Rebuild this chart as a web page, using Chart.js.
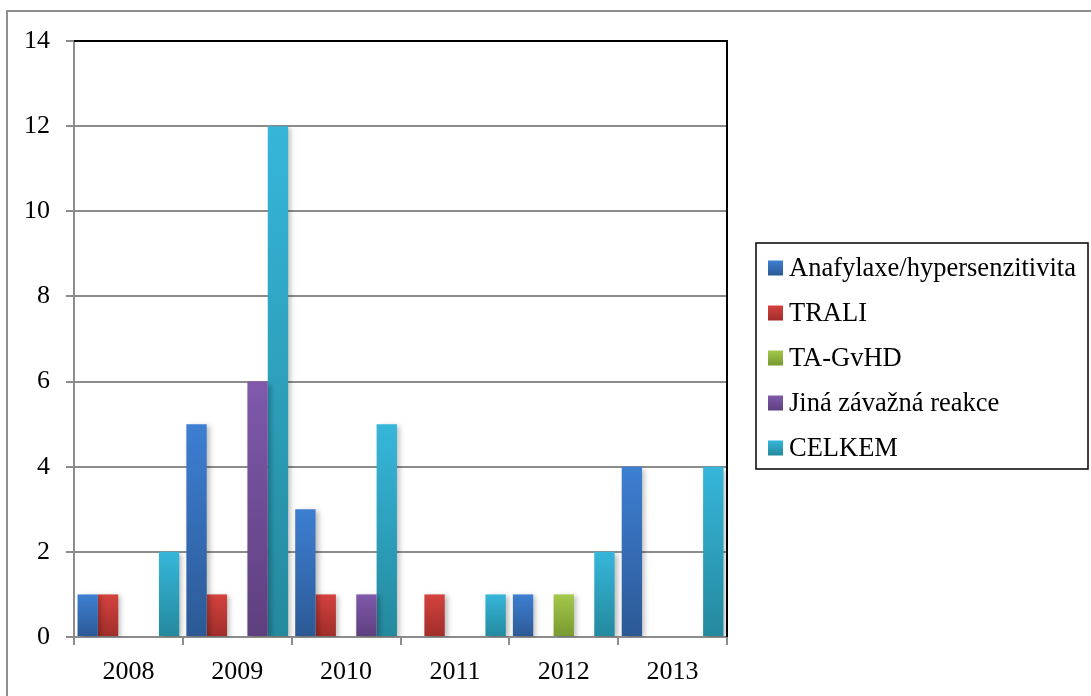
<!DOCTYPE html>
<html>
<head>
<meta charset="utf-8">
<script src="https://cdn.jsdelivr.net/npm/chart.js@4/dist/chart.umd.min.js"></script>
<style>
  html, body { margin: 0; padding: 0; background: #fff; }
  #wrap { width: 1091px; height: 696px; position: relative; }
</style>
</head>
<body>
<div id="wrap"><canvas id="chart-reakce"></canvas></div>
<script>
// Závažné nežádoucí reakce po transfuzi, 2008-2013
const years = ["2008", "2009", "2010", "2011", "2012", "2013"];
const seriesNames = [
  "Anafylaxe/hypersenzitivita",
  "TRALI",
  "TA-GvHD",
  "Jiná závažná reakce",
  "CELKEM",
];
const anafylaxe = [1, 5, 3, 0, 1, 4];
const trali = [1, 1, 1, 1, 0, 0];
const taGvhd = [0, 0, 0, 0, 1, 0];
const jina = [0, 6, 1, 0, 0, 0];
const celkem = [2, 12, 5, 1, 2, 4];
const yTicks = [0, 2, 4, 6, 8, 10, 12, 14];

// top / bottom colour of each bar gradient
const palette = [
  ["#3d7fd2", "#2c5995"],
  ["#d4423e", "#9f2d2a"],
  ["#a3c84b", "#78992f"],
  ["#8059ab", "#5d3f7e"],
  ["#36b6da", "#24899d"],
];

const FONT = "'Liberation Serif', 'Times New Roman', serif";
const GRID = "#8c8c8c";

function barFill(top, bottom) {
  return function (c) {
    const chart = c.chart;
    if (!chart.chartArea || c.type !== "data") return top;
    const y = chart.scales.y;
    const y0 = y.getPixelForValue(0);
    const y1 = y.getPixelForValue(c.raw);
    if (y0 - y1 < 1) return top;
    const g = chart.ctx.createLinearGradient(0, y1, 0, y0);
    g.addColorStop(0, top);
    g.addColorStop(1, bottom);
    return g;
  };
}

const allValues = [anafylaxe, trali, taGvhd, jina, celkem];

// soft drop shadow under the bars
const barShadow = {
  id: "barShadow",
  beforeDatasetsDraw(chart) {
    const ctx = chart.ctx;
    ctx.save();
    ctx.shadowColor = "rgba(0,0,0,0.25)";
    ctx.shadowBlur = 5;
    ctx.shadowOffsetX = 3;
    ctx.shadowOffsetY = 2;
  },
  afterDatasetsDraw(chart) {
    chart.ctx.restore();
  },
};

// outer frame, black plot border on top/right and the boxed legend
const frameAndLegend = {
  id: "frameAndLegend",
  beforeDraw(chart) {
    const ctx = chart.ctx;
    ctx.save();
    ctx.strokeStyle = "#8e8e8e";
    ctx.lineWidth = 2;
    ctx.beginPath();
    ctx.moveTo(7, chart.height);
    ctx.lineTo(7, 11);
    ctx.lineTo(chart.width, 11);
    ctx.stroke();
    ctx.restore();
  },
  afterDraw(chart) {
    const ctx = chart.ctx;
    const a = chart.chartArea;
    ctx.save();
    ctx.strokeStyle = "#000";
    ctx.lineWidth = 2;
    ctx.beginPath();
    ctx.moveTo(a.left, a.top);
    ctx.lineTo(a.right, a.top);
    ctx.lineTo(a.right, a.bottom);
    ctx.stroke();

    // legend
    const lx = 756, ly = 243, lw = 332, lh = 226;
    ctx.lineWidth = 1.5;
    ctx.strokeRect(lx, ly, lw, lh);
    ctx.font = "26.5px " + FONT;
    ctx.textBaseline = "middle";
    ctx.fillStyle = "#000";
    chart.data.datasets.forEach((ds, i) => {
      const cy = 268 + i * 45;
      const g = ctx.createLinearGradient(0, cy - 7.5, 0, cy + 7.5);
      g.addColorStop(0, palette[i][0]);
      g.addColorStop(1, palette[i][1]);
      ctx.fillStyle = g;
      ctx.fillRect(768, cy - 7.5, 15, 15);
      ctx.fillStyle = "#000";
      ctx.fillText(ds.label, 789, cy + 1);
    });
    ctx.restore();
  },
};

const ctx = document.getElementById("chart-reakce").getContext("2d");
new Chart(ctx, {
  type: "bar",
  data: {
    labels: years,
    datasets: seriesNames.map((name, i) => ({
      label: name,
      data: allValues[i],
      backgroundColor: barFill(palette[i][0], palette[i][1]),
      borderWidth: 0,
      barPercentage: 1,
      categoryPercentage: 0.935,
    })),
  },
  options: {
    responsive: true,
    maintainAspectRatio: false,
    animation: false,
    layout: {
      padding: { top: 41, right: 364, bottom: 0, left: 0 },
    },
    plugins: {
      legend: { display: false },
      tooltip: { enabled: false },
    },
    scales: {
      x: {
        offset: true,
        afterFit(scale) {
          scale.height = 59;
        },
        grid: {
          display: true,
          drawOnChartArea: false,
          drawTicks: true,
          tickLength: 8,
          color: GRID,
          lineWidth: 2,
        },
        border: { display: true, color: GRID, width: 2 },
        ticks: {
          padding: 12,
          color: "#000",
          font: { size: 26, family: FONT },
        },
      },
      y: {
        min: 0,
        max: 14,
        afterFit(scale) {
          scale.width = 74;
        },
        afterBuildTicks(scale) {
          scale.ticks = yTicks.map((v) => ({ value: v }));
        },
        grid: {
          color: GRID,
          lineWidth: 2,
          tickLength: 8,
        },
        border: { display: true, color: GRID, width: 2 },
        ticks: {
          padding: 16,
          color: "#000",
          font: { size: 26, family: FONT },
        },
      },
    },
  },
  plugins: [barShadow, frameAndLegend],
});
</script>
</body>
</html>
